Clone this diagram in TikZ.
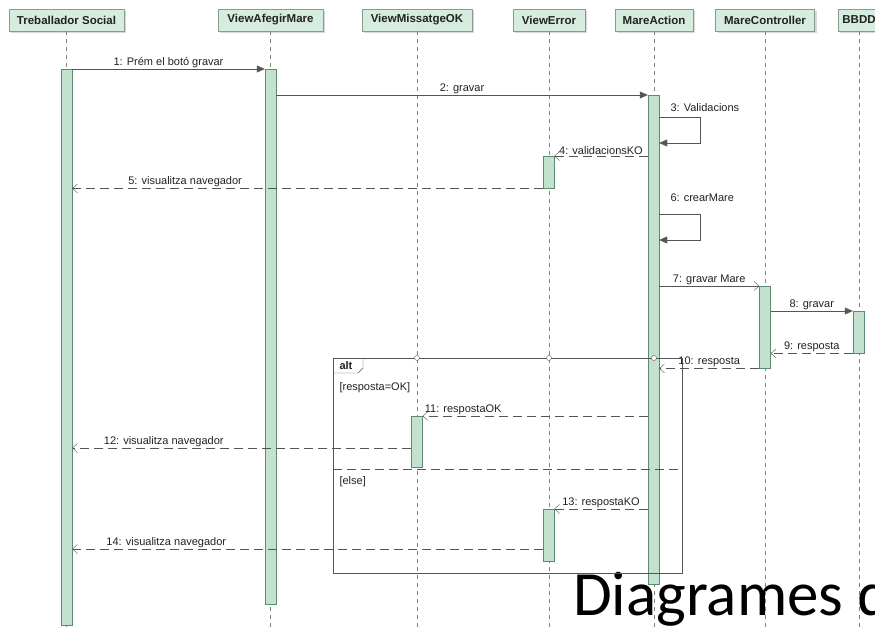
\documentclass[tikz,border=0pt]{standalone}
\usepackage{fontspec}
\setmainfont{Liberation Sans}
\newfontfamily\bigfont{Carlito}
\usetikzlibrary{arrows.meta,shadows}
\definecolor{headfill}{HTML}{D6ECDE}
\definecolor{headline}{HTML}{8A9A90}
\definecolor{actfill}{HTML}{C2E2CF}
\definecolor{actline}{HTML}{5E8A72}
\definecolor{msgline}{HTML}{555555}
\definecolor{txt}{HTML}{222222}

\begin{document}
\begin{tikzpicture}[x=1pt,y=-1pt,font=\fontsize{11}{13}\selectfont,text=txt,
  head/.style={draw=headline,fill=headfill,minimum height=22pt,inner sep=0pt,font=\fontsize{11.5}{13}\selectfont\bfseries,drop shadow={shadow xshift=2pt,shadow yshift=-2pt,fill=gray!60}},
  lifeline/.style={draw=gray,dash pattern=on 4pt off 4pt},
  act/.style={draw=actline,fill=actfill,minimum width=11pt,inner sep=0pt,anchor=north},
  sync/.style={draw=msgline,-{Triangle[length=8pt,width=7pt]}},
  async/.style={draw=msgline,-{Straight Barb[length=5pt,width=9pt]}},
  reply/.style={async,dash pattern=on 9pt off 5pt},
  lbl/.style={above,inner sep=1.5pt}]
\useasboundingbox (0,0) rectangle (875,631);
\fill[white] (0,0) rectangle (875,631);
\node[anchor=base west,inner sep=0pt,text=black,font=\bigfont\fontsize{63}{63}\selectfont] (title) at (573,615) {Diagrames d};

\node[head,minimum width=115pt] (ts) at (66.5,20) {Treballador Social};
\node[head,minimum width=105pt] (vam) at (270.5,20) {ViewAfegirMare};
\node[head,minimum width=110pt] (vmok) at (417,20) {ViewMissatgeOK};
\node[head,minimum width=72pt] (ve) at (549,20) {ViewError};
\node[head,minimum width=78pt] (ma) at (654,20) {MareAction};
\node[head,minimum width=99pt] (mc) at (765,20) {MareController};
\node[head,minimum width=42pt] (bd) at (859,20) {BBDD};
\foreach \n in {ts,vam,vmok,ve,ma,mc,bd}
  \draw[lifeline] (\n.south) -- (\n.south |- 0,631);

\node[act,minimum height=556pt] (a1) at (66.5,69) {};
\node[act,minimum height=535pt] (a2) at (270.5,69) {};
\node[act,minimum height=489pt] (a3) at (653.5,95) {};
\node[act,minimum height=32pt] (a4) at (548.5,156) {};
\node[act,minimum height=82pt] (a5) at (765,286) {};
\node[act,minimum height=42pt] (a6) at (858.5,311) {};
\node[act,minimum height=51pt] (a7) at (417,416) {};
\node[act,minimum height=52pt] (a8) at (548.5,509) {};
\coordinate (c12) at (a7.west |- 0,448);
\coordinate (c14) at (a8.west |- 0,549);

\draw[sync] (a1.north east) -- node[lbl] (l1) {1: Prém el botó gravar} (a2.north west);
\draw[sync] (a2.east |- a3.north) -- node[lbl] (l2) {2: gravar} (a3.north west);
\draw[sync] (a3.east |- 0,117) -- ++(41,0) |- (a3.east |- 0,143);
\node[anchor=west] (l3) at (667,108) {3: Validacions};
\draw[reply] (a3.west |- a4.north) -- node[lbl] (l4) {4: validacionsKO} (a4.north east);
\draw[reply] (a4.south west) -- node[lbl,pos=0.76] (l5) {5: visualitza navegador} (a1.east |- a4.south);
\draw[sync] (a3.east |- 0,214) -- ++(41,0) |- (a3.east |- 0,240);
\node[anchor=west] (l6) at (667,198) {6: crearMare};
\draw[async] (a3.east |- a5.north) -- node[lbl] (l7) {7: gravar Mare} (a5.north west);
\draw[sync] (a5.east |- a6.north) -- node[lbl] (l8) {8: gravar} (a6.north west);
\draw[reply] (a6.south west) -- node[lbl] (l9) {9: resposta} (a5.east |- a6.south);
\draw[reply] (a5.south west) -- node[lbl] (l10) {10: resposta} (a3.east |- a5.south);
\draw[reply] (a3.west |- a7.north) -- node[lbl,pos=0.82] (l11) {11: respostaOK} (a7.north east);
\draw[reply] (c12) -- node[lbl,pos=0.73] (l12) {12: visualitza navegador} (a1.east |- c12);
\draw[reply] (a3.west |- a8.north) -- node[lbl] (l13) {13: respostaKO} (a8.north east);
\draw[reply] (c14) -- node[lbl,pos=0.8] (l14) {14: visualitza navegador} (a1.east |- c14);

\draw[msgline] (333,358) rectangle (682,573);
\draw[msgline] (333,373) -- (358,373) -- (363,368) -- (363,358);
\node[anchor=west,font=\fontsize{11}{13}\selectfont\bfseries] (alt) at (336,366) {alt};
\foreach \n in {vmok,ve,ma}
  \draw[msgline,fill=white] (\n |- 0,358) circle (2.5pt);
\draw[msgline,dash pattern=on 9pt off 5pt] (333,469) -- (682,469);
\node[anchor=west] (g1) at (336,388) {[resposta=OK]};
\node[anchor=west] (g2) at (336,482) {[else]};
\end{tikzpicture}
\end{document}
